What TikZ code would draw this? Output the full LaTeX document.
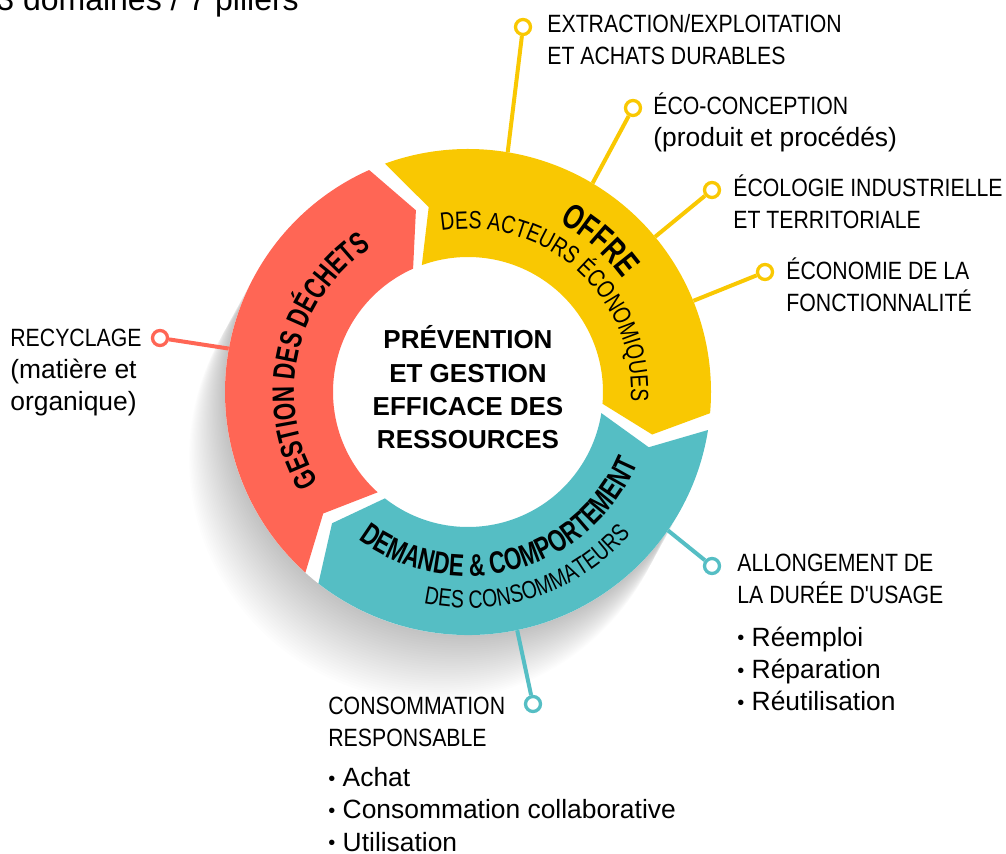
\documentclass[tikz,border=0pt]{standalone}
\usepackage{fontspec}
\setmainfont{Liberation Sans}
\newfontfamily\condfont{Liberation Sans}[FakeStretch=0.85]
\newfontfamily\ringbold{Liberation Sans}[FakeStretch=0.72]
\newfontfamily\ringlight{Liberation Sans}[FakeStretch=0.78]
\usetikzlibrary{decorations.text}

\definecolor{dechets}{HTML}{FF6655}
\definecolor{offre}{HTML}{F9C802}
\definecolor{demande}{HTML}{55BEC4}

% one arrow-shaped piece of the ring: start angle, end angle, colour
\newcommand{\ringpart}[3]{%
  \fill[#3] (#1:243) arc[start angle=#1, end angle=#2, radius=243]
    -- ({#2-8}:189) -- (#2:135) arc[start angle=#2, end angle=#1, radius=135]
    -- ({#1-8}:189) -- cycle;}
\newcommand{\puce}{{\fontsize{10}{10}\selectfont\raisebox{0.6pt}{•}} }

\tikzset{
  pindot/.style={circle, draw=#1, fill=white, line width=1.65pt, minimum size=7.5pt, inner sep=0pt},
  link/.style={draw=#1, line width=2pt},
  caps/.style={font=\condfont\fontsize{12.5}{16}\selectfont, align=left, inner sep=0pt, anchor=base west},
  plain/.style={font=\fontsize{13.2}{16.2}\selectfont, align=left, inner sep=0pt, anchor=base west},
}

\begin{document}
\begin{tikzpicture}[x=0.5pt, y=0.5pt]
\useasboundingbox (0,0) rectangle (1006,-854);

\node[font=\fontsize{16}{16}\selectfont, inner sep=0pt, anchor=base west] (titre) at (-4,-11) {3 domaines / 7 piliers};

% shadow under the ring
\foreach \k in {1,...,30}
  \fill[black, opacity=0.007] (468-1.2*\k, -392-2.2*\k) circle[radius=243];

% pins
\coordinate (y1base) at (507,-158);
\coordinate (y2base) at (590,-188);
\coordinate (y3base) at (650,-241);
\coordinate (y4base) at (688,-303);
\coordinate (r1base) at (238,-350);
\coordinate (t1base) at (660,-524);
\coordinate (t2base) at (515,-620);
\node[pindot=offre] (y1dot) at (523,-27) {};
\node[pindot=offre] (y2dot) at (633,-108) {};
\node[pindot=offre] (y3dot) at (712,-190) {};
\node[pindot=offre] (y4dot) at (765,-272) {};
\node[pindot=dechets] (r1dot) at (160,-338) {};
\node[pindot=demande] (t1dot) at (712,-566) {};
\node[pindot=demande] (t2dot) at (533,-704) {};
\draw[link=offre] (y1base) -- (y1dot);
\draw[link=offre] (y2base) -- (y2dot);
\draw[link=offre] (y3base) -- (y3dot);
\draw[link=offre] (y4base) -- (y4dot);
\draw[link=dechets] (r1base) -- (r1dot);
\draw[link=demande] (t1base) -- (t1dot);
\draw[link=demande] (t2base) -- (t2dot);

% ring
\begin{scope}[shift={(468,-392)}]
  \fill[white] (0,0) circle[radius=243];
  \ringpart{228}{114}{dechets}
  \ringpart{110}{-5}{offre}
  \ringpart{-9}{-128}{demande}
  \path[decorate, decoration={text along path, text align=center,
    text={|\ringbold\bfseries\fontsize{15.5}{15.5}\selectfont|GESTION DES DÉCHETS}}]
    (237.5:174) arc[start angle=237.5, end angle=97.5, radius=174];
  \path[decorate, decoration={text along path, text align=center,
    text={|\ringbold\bfseries\fontsize{17.5}{17.5}\selectfont|OFFRE}}]
    (119:192) arc[start angle=119, end angle=-21, radius=192];
  \path[decorate, decoration={text along path, text align=center,
    text={|\ringlight\fontsize{12.5}{12.5}\selectfont|DES ACTEURS ÉCONOMIQUES}}]
    (118:163) arc[start angle=118, end angle=-22, radius=163];
  \path[decorate, decoration={text along path, text align=center,
    text={|\ringbold\bfseries\fontsize{15.5}{15.5}\selectfont|DEMANDE {\&} COMPORTEMENT}}]
    (215.3:184) arc[start angle=215.3, end angle=355.3, radius=184];
  \path[decorate, decoration={text along path, text align=center,
    text={|\ringlight\fontsize{12.5}{12.5}\selectfont|DES CONSOMMATEURS}}]
    (218.5:216) arc[start angle=218.5, end angle=358.5, radius=216];
\end{scope}

\node[font=\bfseries\fontsize{13}{16.7}\selectfont, align=center, inner sep=0pt, anchor=base] (centre) at (468,-449)
  {PRÉVENTION\\ET GESTION\\EFFICACE DES\\RESSOURCES};

% labels (anchored on the baseline of their last line)
\node[caps] (y1text) at (547,-65) {EXTRACTION/EXPLOITATION\\ET ACHATS DURABLES};
\node[caps] (y2text) at (653,-147) {ÉCO-CONCEPTION\\\normalfont\fontsize{13.2}{16}\selectfont(produit et procédés)};
\node[caps] (y3text) at (733,-229) {ÉCOLOGIE INDUSTRIELLE\\ET TERRITORIALE};
\node[caps] (y4text) at (786,-312) {ÉCONOMIE DE LA\\FONCTIONNALITÉ};
\node[caps] (r1text) at (10,-411) {RECYCLAGE\\\normalfont\fontsize{13.2}{16}\selectfont(matière et\\\normalfont\fontsize{13.2}{16}\selectfont organique)};
\node[caps] (t1text) at (737,-604) {ALLONGEMENT DE\\LA DURÉE D'USAGE};
\node[plain] (t1list) at (737,-711) {\puce Réemploi\\\puce Réparation\\\puce Réutilisation};
\node[caps] (t2text) at (328,-746) {CONSOMMATION\\RESPONSABLE};
\node[plain] (t2list) at (328,-851) {\puce Achat\\\puce Consommation collaborative\\\puce Utilisation};
\end{tikzpicture}
\end{document}
